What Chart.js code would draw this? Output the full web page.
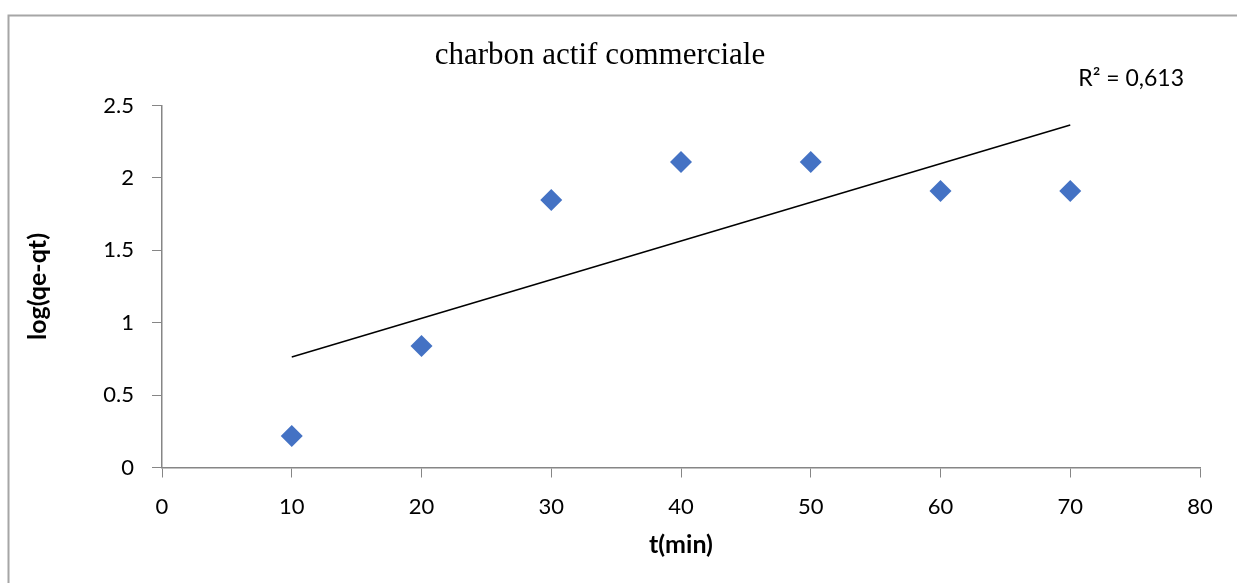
<!DOCTYPE html>
<html>
<head>
<meta charset="utf-8">
<script src="https://cdn.jsdelivr.net/npm/chart.js@4"></script>
<style>
  html, body { margin: 0; padding: 0; background: #fff; overflow: hidden; }
  #wrap { width: 1237px; height: 583px; position: relative; }
</style>
</head>
<body>
<div id="wrap"><canvas id="chart" width="1237" height="583"></canvas></div>
<script>
// Data
const TIMES = [10, 20, 30, 40, 50, 60, 70];
const LOG_VALUES = [0.217, 0.839, 1.847, 2.11, 2.11, 1.91, 1.91];
const TREND_X = [10, 70];
const TREND_Y = [0.763, 2.365];
const R2_LABEL = "R² = 0,613";

const AXIS_COLOR = "#868686";
const SANS = "Lato, 'Open Sans', sans-serif";

// Gray frame around the chart (cut by the window on the right and bottom)
const framePlugin = {
  id: "frame",
  beforeDraw(chart) {
    const ctx = chart.ctx;
    ctx.save();
    ctx.fillStyle = "#fff";
    ctx.fillRect(0, 0, chart.width, chart.height);
    ctx.strokeStyle = "#a6a6a6";
    ctx.lineWidth = 2;
    ctx.beginPath();
    ctx.moveTo(8.5, chart.height);
    ctx.lineTo(8.5, 15.5);
    ctx.lineTo(chart.width, 15.5);
    ctx.stroke();
    ctx.restore();
  },
};

// R² label next to the end of the trend line
const r2Plugin = {
  id: "r2",
  afterDraw(chart) {
    const ctx = chart.ctx;
    const x = chart.scales.x.getPixelForValue(TREND_X[1]) + 8;
    const y = chart.scales.y.getPixelForValue(2.5) - 20;
    ctx.save();
    ctx.font = "23px " + SANS;
    ctx.fillStyle = "#000";
    ctx.textAlign = "left";
    ctx.textBaseline = "alphabetic";
    ctx.fillText(R2_LABEL, x, y);
    ctx.restore();
  },
};

const ctx = document.getElementById("chart").getContext("2d");
new Chart(ctx, {
  type: "scatter",
  data: {
    datasets: [
      {
        label: "log(qe-qt)",
        data: TIMES.map((t, i) => ({ x: t, y: LOG_VALUES[i] })),
        pointStyle: "rectRot",
        pointRadius: 11,
        pointHoverRadius: 11,
        backgroundColor: "#4472C4",
        borderColor: "#4472C4",
        borderWidth: 0,
      },
      {
        type: "line",
        label: "trend",
        data: TREND_X.map((t, i) => ({ x: t, y: TREND_Y[i] })),
        borderColor: "#000",
        borderWidth: 1.5,
        pointRadius: 0,
        fill: false,
      },
    ],
  },
  options: {
    responsive: false,
    animation: false,
    layout: { padding: { left: 0, right: 37, top: 0, bottom: 0 } },
    plugins: {
      legend: { display: false },
      tooltip: { enabled: false },
      title: {
        display: true,
        text: "charbon actif commerciale",
        color: "#000",
        font: { family: "'Liberation Serif', 'Times New Roman', serif", size: 31, weight: "normal" },
        padding: { top: 37, bottom: 31.3 },
      },
    },
    scales: {
      x: {
        type: "linear",
        min: 0,
        max: 80,
        ticks: { stepSize: 10, color: "#000", font: { family: SANS, size: 22 }, padding: 16 },
        grid: { drawOnChartArea: false, tickLength: 10, tickColor: AXIS_COLOR },
        border: { color: AXIS_COLOR, width: 1.5 },
        title: {
          display: true,
          text: "t(min)",
          color: "#000",
          font: { family: SANS, size: 25, weight: "bold" },
          padding: { top: 0, bottom: 23 },
        },
        afterFit(scale) { scale.height = 115.5; },
      },
      y: {
        min: 0,
        max: 2.5,
        ticks: {
          stepSize: 0.5,
          color: "#000",
          font: { family: SANS, size: 22 },
          padding: 18,
          callback: (v) => String(v),
        },
        grid: { drawOnChartArea: false, tickLength: 10, tickColor: AXIS_COLOR },
        border: { color: AXIS_COLOR, width: 1.5 },
        title: {
          display: true,
          text: "log(qe-qt)",
          color: "#000",
          font: { family: SANS, size: 25, weight: "bold" },
          padding: { top: 23, bottom: 0 },
        },
        afterFit(scale) { scale.width = 162; },
      },
    },
  },
  plugins: [framePlugin, r2Plugin],
});
</script>
</body>
</html>
